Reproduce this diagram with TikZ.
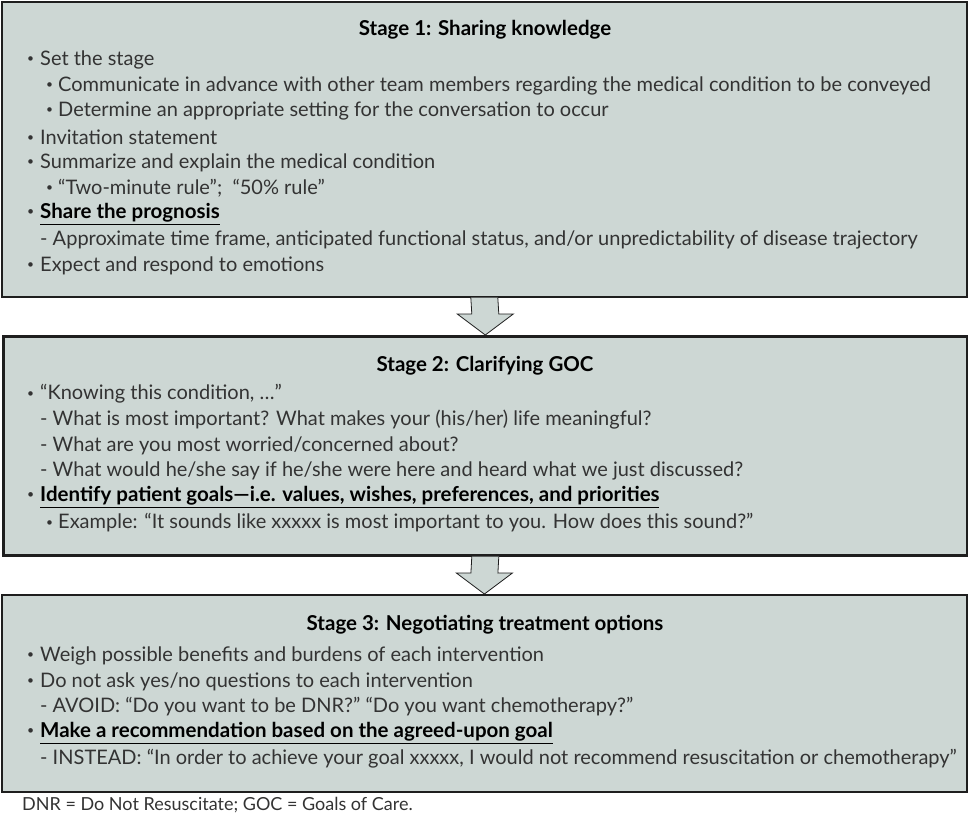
\documentclass[tikz,border=0pt]{standalone}
\usepackage{fontspec}
\setmainfont{Lato}
\usetikzlibrary{positioning}

\definecolor{boxgrey}{HTML}{CDD7D4}
\definecolor{linegrey}{HTML}{1E1E1E}
\definecolor{txtgrey}{HTML}{333333}

\tikzset{
  stagebox/.style={draw=linegrey,fill=boxgrey,rectangle,inner sep=0pt,anchor=north west},
  head/.style={anchor=center,inner sep=0pt,font=\fontsize{20.5}{22}\selectfont\bfseries,text=black},
  item/.style={anchor=west,inner sep=0pt,font=\fontsize{20}{22}\selectfont,text=txtgrey},
  keyitem/.style={anchor=west,inner sep=0pt,font=\fontsize{20.5}{22}\selectfont\bfseries,text=black},
  blockarrow/.style={draw=linegrey,fill=boxgrey,line width=0.8pt,line join=miter}
}
\newcommand{\dotmark}{\raisebox{0.14em}{\scalebox{0.6}{\mdseries\color{txtgrey}\textbullet}}}
\newcommand{\bul}{\makebox[12pt][l]{\hspace{-1pt}\dotmark}}
\newcommand{\subbul}{\makebox[11pt][l]{\hspace{-1pt}\dotmark}}

\begin{document}
\begin{tikzpicture}[x=1pt,y=-1pt]
\useasboundingbox (0,0) rectangle (968,816);
%\draw[help lines,step=50] (0,0) grid (968,816);

%% Stage 1
\node[stagebox,line width=1.6pt,minimum width=965pt,minimum height=295pt] (b1) at (1,1) {};
\node[head] (s1h) at (485,30) {Stage 1: Sharing knowledge};
\node[item] (s1a) at (28,60) {\bul Set the stage};
\node[item] (s1b) at (47,86) {\subbul Communicate in advance with other team members regarding the medical condition to be conveyed};
\node[item] (s1c) at (47,111) {\subbul Determine an appropriate setting for the conversation to occur};
\node[item] (s1d) at (28,137) {\bul Invitation statement};
\node[item] (s1e) at (28,163) {\bul Summarize and explain the medical condition};
\node[item] (s1f) at (47,188) {\subbul “Two-minute rule”;\ \ “50\% rule”};
\node[keyitem] (s1g) at (28,214) {\bul\underline{Share the prognosis}};
\node[item] (s1i) at (40,240) {- Approximate time frame, anticipated functional status, and/or unpredictability of disease trajectory};
\node[item] (s1j) at (28,266) {\bul Expect and respond to emotions};

%% Stage 2
\node[stagebox,line width=2.6pt,minimum width=964pt,minimum height=219pt] (b2) at (2,335) {};
\node[head] (s2h) at (485,366) {Stage 2: Clarifying GOC};
\node[item] (s2a) at (28,394) {\bul “Knowing this condition, …”};
\node[item] (s2b) at (40,420) {- What is most important? What makes your (his/her) life meaningful?};
\node[item] (s2c) at (40,446) {- What are you most worried/concerned about?};
\node[item] (s2d) at (40,471) {- What would he/she say if he/she were here and heard what we just discussed?};
\node[keyitem] (s2e) at (28,497) {\bul\underline{Identify patient goals—i.e. values, wishes, preferences, and priorities}};
\node[item] (s2f) at (47,523) {\subbul Example: “It sounds like xxxxx is most important to you. How does this sound?”};

%% Stage 3
\node[stagebox,line width=1.8pt,minimum width=965pt,minimum height=197pt] (b3) at (1,594) {};
\node[head] (s3h) at (485,625) {Stage 3: Negotiating treatment options};
\node[item] (s3a) at (28,656) {\bul Weigh possible benefits and burdens of each intervention};
\node[item] (s3b) at (28,682) {\bul Do not ask yes/no questions to each intervention};
\node[item] (s3c) at (40,707) {- AVOID: “Do you want to be DNR?” “Do you want chemotherapy?”};
\node[keyitem] (s3d) at (28,733) {\bul\underline{Make a recommendation based on the agreed-upon goal}};
\node[item] (s3e) at (40,759) {- INSTEAD: “In order to achieve your goal xxxxx, I would not recommend resuscitation or chemotherapy”};

%% Footnote
\node[item,font=\fontsize{18}{20}\selectfont] (note) at (22,805) {DNR = Do Not Resuscitate; GOC = Goals of Care.};

%% Block arrows
\draw[blockarrow] ([xshift=-13.5pt]b1.south) -- ([xshift=-13.5pt,yshift=21pt]b2.north)
  -- ([xshift=-28pt,yshift=21pt]b2.north) -- (b2.north)
  -- ([xshift=28pt,yshift=21pt]b2.north) -- ([xshift=13.5pt,yshift=21pt]b2.north)
  -- ([xshift=13.5pt]b1.south);
\draw[blockarrow] ([xshift=-13.5pt]b2.south) -- ([xshift=-13.5pt,yshift=21pt]b3.north)
  -- ([xshift=-28pt,yshift=21pt]b3.north) -- (b3.north)
  -- ([xshift=28pt,yshift=21pt]b3.north) -- ([xshift=13.5pt,yshift=21pt]b3.north)
  -- ([xshift=13.5pt]b2.south);
\end{tikzpicture}
\end{document}
